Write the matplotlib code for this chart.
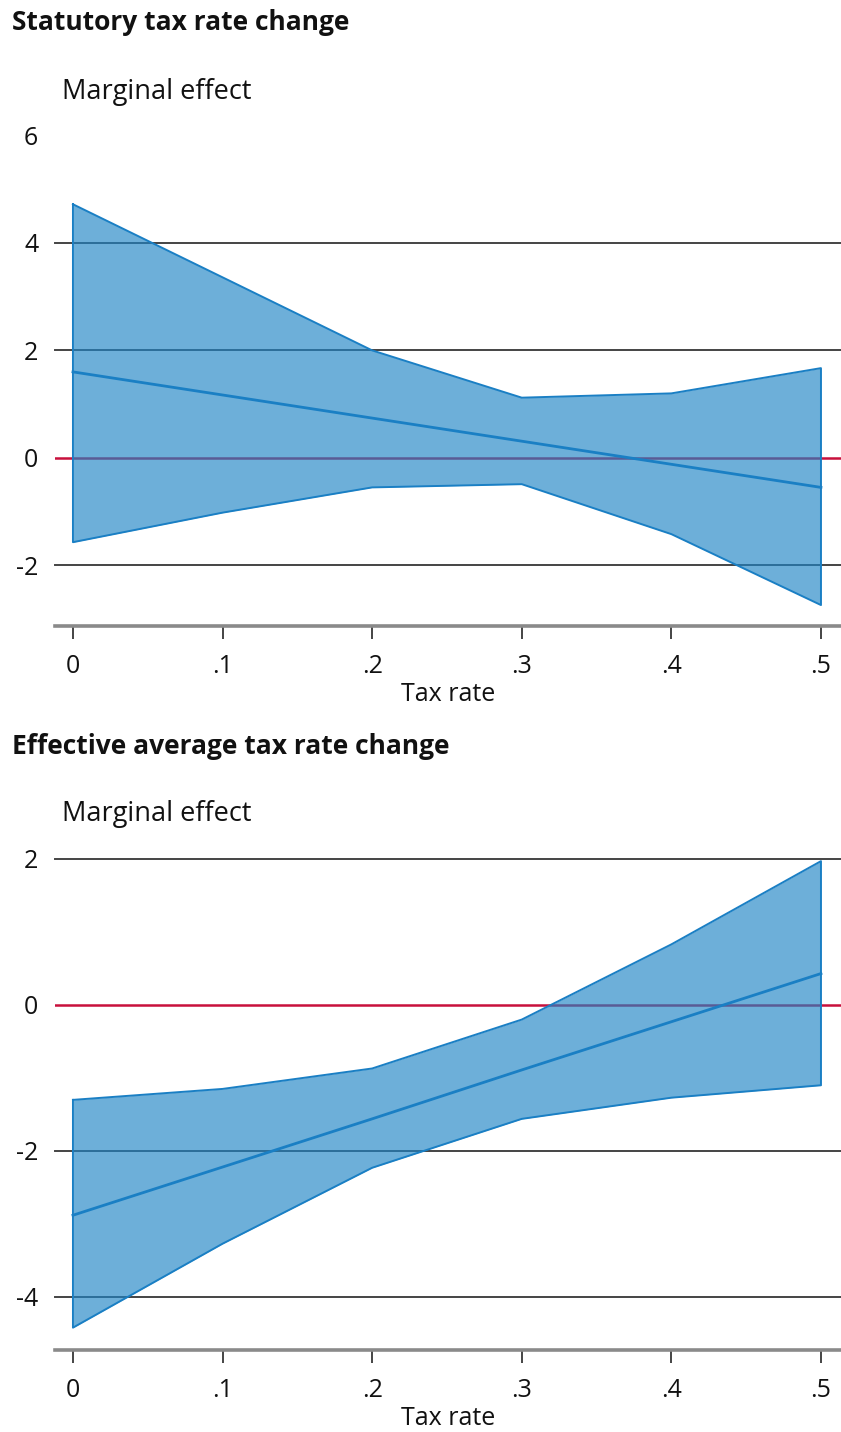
import numpy as np
import matplotlib
matplotlib.use('Agg')
import matplotlib.pyplot as plt

# marginal effect of tax rate, with confidence band
tax_rate = [0.0, 0.1, 0.2, 0.3, 0.4, 0.5]

stat_est = [1.60, 1.17, 0.74, 0.31, -0.12, -0.55]
stat_hi = [4.72, 3.36, 2.00, 1.12, 1.20, 1.67]
stat_lo = [-1.57, -1.02, -0.55, -0.49, -1.42, -2.74]

eatr_est = [-2.88, -2.22, -1.56, -0.89, -0.23, 0.43]
eatr_hi = [-1.30, -1.15, -0.87, -0.20, 0.83, 1.97]
eatr_lo = [-4.42, -3.27, -2.23, -1.56, -1.27, -1.10]

x_ticks = [0.0, 0.1, 0.2, 0.3, 0.4, 0.5]
x_labels = ['0', '.1', '.2', '.3', '.4', '.5']

plt.rcParams['font.family'] = ['Open Sans', 'DejaVu Sans']

W, H = 841, 1432
fig = plt.figure(figsize=(W / 100, H / 100), dpi=100)

band = '#1f84c6'
edge = '#1a7fc4'
zero_col = '#c8103c'
grid_col = '#444444'


def panel(rect, est, hi, lo, ylim, yticks, grid_vals, title, title_y, lab_y):
    ax = fig.add_axes(rect)
    ax.set_xlim(-0.012, 0.5134)
    ax.set_ylim(*ylim)
    for g in grid_vals:
        ax.axhline(g, color=grid_col, lw=1.4, zorder=1, clip_on=False)
    ax.axhline(0, color=zero_col, lw=1.8, zorder=1)
    ax.fill_between(tax_rate, lo, hi, color=band, alpha=0.65, lw=0, zorder=2)
    poly_x = tax_rate + tax_rate[::-1] + [tax_rate[0]]
    poly_y = hi + lo[::-1] + [hi[0]]
    ax.plot(poly_x, poly_y, color=edge, lw=1.4, zorder=3)
    ax.plot(tax_rate, est, color=edge, lw=2.0, zorder=3)

    for s in ['top', 'right', 'left']:
        ax.spines[s].set_visible(False)
    ax.spines['bottom'].set_color('#8a8a8a')
    ax.spines['bottom'].set_linewidth(2.6)

    ax.set_xticks(x_ticks)
    ax.set_xticklabels(x_labels)
    ax.tick_params(axis='x', length=9, width=1.4, color='#444444', pad=11,
                   labelsize=18, labelcolor='#111111')
    ax.set_yticks(yticks)
    ax.set_yticklabels([str(v) for v in yticks])
    ax.tick_params(axis='y', length=0, pad=12, labelsize=18, labelcolor='#111111')
    ax.set_xlabel('Tax rate', fontsize=18, color='#111111', labelpad=2)

    fig.text(12 / W, 1 - title_y / H, title, fontsize=19, fontweight='bold',
             color='#111111', va='center', ha='left')
    fig.text(62 / W, 1 - lab_y / H, 'Marginal effect', fontsize=19.5,
             color='#111111', va='center', ha='left')
    return ax


# top panel: y=6 at 135.5px, axis line at 626px
panel([55 / W, 1 - 626 / H, 786 / W, (626 - 135.5) / H],
      stat_est, stat_hi, stat_lo, (-3.13, 6.0), [-2, 0, 2, 4, 6], [-2, 2, 4],
      'Statutory tax rate change', 22, 92)

# bottom panel: y=2.05 at 855.3px, axis line at 1350px
panel([55 / W, 1 - 1350 / H, 786 / W, (1350 - 855.3) / H],
      eatr_est, eatr_hi, eatr_lo, (-4.726, 2.05), [-4, -2, 0, 2], [-4, -2, 2],
      'Effective average tax rate change', 746, 814)

fig.savefig('out.png', dpi=100)
